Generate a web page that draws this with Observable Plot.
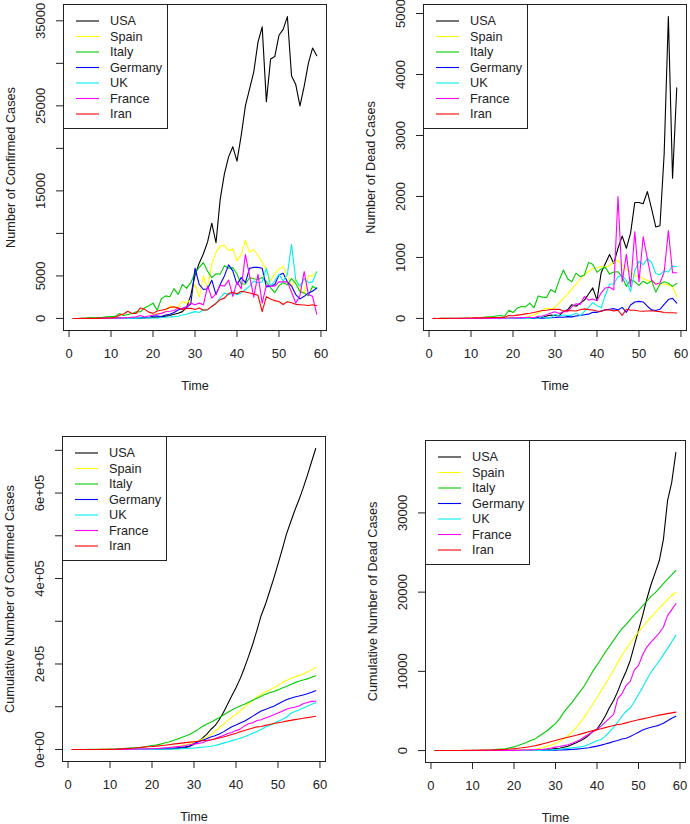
<!DOCTYPE html>
<html><head><meta charset="utf-8">
<script src="https://cdn.jsdelivr.net/npm/d3@7"></script>
<script src="https://cdn.jsdelivr.net/npm/@observablehq/plot@0.6"></script>
<style>
body{margin:0;background:#fff;}
#wrap{position:relative;width:690px;height:824px;background:#fff;font-family:"Liberation Sans",Arial,sans-serif;}
.panel{position:absolute;}
</style></head><body><div id="wrap"></div>
<script>
const days = d3.range(1, 60);
const countries = ["USA","Spain","Italy","Germany","UK","France","Iran"];
const colors = ["#000000","#ffff00","#00cd00","#0000ff","#00eeee","#ff00ff","#ff0000"];
const xTicks = [0,10,20,30,40,50,60];

// Daily confirmed cases
const usaCases = [0,0,0,0,0,0,1,0,3,0,2,8,7,20,25,30,50,60,100,110,150,200,270,350,500,600,800,1300,2700,5100,6500,7600,9000,11200,8900,14000,17000,19000,20200,18500,21500,25000,27000,29000,32500,34300,25500,30500,30800,33300,34000,35500,28500,27500,25000,27300,30000,31800,30900];
const spainCases = [0,0,0,0,0,0,2,5,10,15,20,30,35,45,40,60,140,100,170,400,600,580,800,1500,1200,1400,2000,1800,2200,4000,2500,5000,3500,6400,7800,8500,8600,8000,8200,6800,7500,9200,7800,8100,7400,6600,5800,4400,5300,5800,6100,5000,3800,4600,3400,3000,5000,5000,5500];
const italyCases = [0,0,17,42,93,74,93,131,202,233,240,566,342,466,587,769,778,1247,1492,1797,977,2313,2651,2547,3497,2823,4000,3526,4207,5322,5986,6557,5560,4789,5249,5210,6203,5909,5974,5217,4050,4053,4782,4668,4585,4805,4316,3599,3039,3836,4204,3951,4694,4092,3153,2972,2667,3786,3493];
const germanyCases = [0,0,0,0,0,0,0,2,1,20,10,30,20,40,30,50,70,140,90,270,280,220,400,500,700,1000,1200,1300,1700,5900,4000,3400,3500,4500,2800,4000,5000,6300,5600,4000,4800,4200,5900,6000,6000,5900,3700,3800,4000,5100,5300,4300,3800,2800,2300,2600,3000,3200,3600];
const ukCases = [0,0,0,0,0,0,0,4,0,3,3,13,4,11,34,30,48,43,67,48,52,83,134,160,210,250,400,500,650,800,700,1000,1000,1400,1800,2400,3000,2800,3000,2800,3000,3400,3800,4400,4200,4300,5900,3800,4400,5200,4400,5200,8700,4500,3800,4700,4200,4300,5500];
const franceCases = [0,0,0,0,0,0,0,4,20,19,43,30,61,73,138,190,336,177,286,372,497,595,785,838,924,1210,1100,1400,1800,1600,1800,1600,3800,2400,2900,3900,3800,4500,2600,4300,3500,7500,5000,2500,5200,1800,3900,3800,3800,4300,4300,4300,3100,1800,2700,5500,2800,2600,500];
const iranCases = [0,0,2,3,13,10,33,34,47,62,143,385,523,835,586,591,1234,1076,743,595,881,958,1075,1289,1365,1209,1053,1178,1192,1046,1237,966,1028,1411,1762,2206,2389,2926,3076,2901,3186,3110,2988,2875,2715,800,2560,2274,2089,1997,1634,1972,1837,1657,1617,1574,1512,1606,1499];

// Daily deaths
const usaDeaths = [0,0,0,0,0,0,0,0,0,0,1,0,5,3,2,1,2,4,3,4,4,7,7,11,10,18,23,40,56,49,46,113,141,225,200,250,300,400,500,300,750,900,1050,900,1150,1350,1150,1400,1900,1900,1880,2080,1800,1500,1520,2700,4950,2300,3780];
const spainDeaths = [0,0,0,0,0,0,0,0,0,0,0,0,1,0,1,1,3,5,7,10,10,15,20,40,60,90,130,170,150,180,250,330,400,480,560,650,720,770,820,830,850,840,870,920,950,880,800,760,700,690,650,620,600,580,560,560,550,520,360];
const italyDeaths = [0,0,1,1,1,4,3,2,5,4,8,5,18,27,28,41,49,36,133,97,168,196,189,250,175,368,349,345,475,427,627,793,651,601,743,683,712,919,889,756,812,837,727,760,766,681,525,636,604,542,610,570,619,431,566,602,578,525,575];
const germanyDeaths = [0,0,0,0,0,0,0,0,0,0,0,0,0,0,0,0,0,0,0,2,0,1,0,4,1,2,5,8,10,15,22,20,30,25,40,50,60,70,100,100,120,140,150,160,140,180,100,220,270,280,270,200,140,130,150,230,310,330,250];
const ukDeaths = [0,0,0,0,0,0,0,0,0,0,0,0,0,0,0,1,1,0,1,1,2,2,0,0,13,0,35,0,16,66,40,56,48,54,87,43,114,181,260,209,180,381,563,569,684,708,621,439,786,938,881,980,917,737,717,778,761,861,847];
const franceDeaths = [0,0,0,0,0,0,0,1,0,0,0,1,1,0,1,2,3,2,6,10,9,15,13,19,12,36,40,60,90,110,80,110,110,190,240,230,360,300,320,290,420,500,510,470,2000,600,1050,520,1420,600,1340,980,630,560,580,760,1440,750,750];
const iranDeaths = [2,0,2,1,3,4,4,3,7,8,9,11,12,11,15,15,16,21,49,43,54,63,75,85,97,113,129,135,147,149,149,123,129,127,122,143,157,144,139,123,117,141,138,124,134,50,151,136,133,121,117,122,125,117,111,98,94,92,89];

// Cumulative confirmed cases
const usaCumCases = [0,0,0,0,0,0,1,1,4,4,6,14,21,41,66,96,146,206,306,416,566,766,1036,1386,1886,2486,3286,4586,7286,12386,18886,26486,35486,46686,55586,69586,86586,105586,125786,144286,165786,190786,217786,246786,279286,313586,339086,369586,400386,433686,467686,503186,531686,559186,584186,611486,641486,673286,704186];
const spainCumCases = [0,0,0,0,0,0,2,7,17,32,52,82,117,162,202,262,402,502,672,1072,1672,2252,3052,4552,5752,7152,9152,10952,13152,17152,19652,24652,28152,34552,42352,50852,59452,67452,75652,82452,89952,99152,106952,115052,122452,129052,134852,139252,144552,150352,156452,161452,165252,169852,173252,176252,181252,186252,191752];
const italyCumCases = [0,0,17,59,152,226,319,450,652,885,1125,1691,2033,2499,3086,3855,4633,5880,7372,9169,10146,12459,15110,17657,21154,23977,27977,31503,35710,41032,47018,53575,59135,63924,69173,74383,80586,86495,92469,97686,101736,105789,110571,115239,119824,124629,128945,132544,135583,139419,143623,147574,152268,156360,159513,162485,165152,168938,172431];
const germanyCumCases = [0,0,0,0,0,0,0,2,3,23,33,63,83,123,153,203,273,413,503,773,1053,1273,1673,2173,2873,3873,5073,6373,8073,13973,17973,21373,24873,29373,32173,36173,41173,47473,53073,57073,61873,66073,71973,77973,83973,89873,93573,97373,101373,106473,111773,116073,119873,122673,124973,127573,130573,133773,137373];
const ukCumCases = [0,0,0,0,0,0,0,4,4,7,10,23,27,38,72,102,150,193,260,308,360,443,577,737,947,1197,1597,2097,2747,3547,4247,5247,6247,7647,9447,11847,14847,17647,20647,23447,26447,29847,33647,38047,42247,46547,52447,56247,60647,65847,70247,75447,84147,88647,92447,97147,101347,105647,109500];
const franceCumCases = [0,0,0,0,0,0,0,4,24,43,86,116,177,250,388,578,914,1091,1377,1749,2246,2841,3626,4464,5388,6598,7698,9098,10898,12498,14298,15898,19698,22098,24998,28898,32698,37198,39798,44098,47598,55098,60098,62598,67798,69598,73498,77298,81098,85398,89698,93998,97098,98898,101598,107098,109898,112498,112998];
const iranCumCases = [0,0,2,5,18,28,61,95,142,204,347,732,1255,2090,2676,3267,4501,5577,6320,6915,7796,8754,9829,11118,12483,13692,14745,15923,17115,18161,19398,20364,21392,22803,24565,26771,29160,32086,35162,38063,41249,44359,47347,50222,52937,53737,56297,58571,60660,62657,64291,66263,68100,69757,71374,72948,74460,76066,77565];

// Cumulative deaths
const usaCumDeaths = [0,0,0,0,0,0,0,0,0,0,1,1,6,9,11,12,14,18,21,25,29,36,43,54,64,82,105,145,201,250,296,409,550,775,975,1225,1525,1925,2425,2725,3475,4375,5425,6325,7475,8825,9975,11375,13275,15175,17055,19135,20935,22435,23955,26655,31555,33855,37635];
const spainCumDeaths = [0,0,0,0,0,0,0,0,0,0,0,0,1,1,2,3,6,11,18,28,38,53,73,113,173,263,393,563,713,893,1143,1473,1873,2353,2913,3563,4283,5053,5873,6703,7553,8393,9263,10183,11133,12013,12813,13573,14273,14963,15613,16233,16833,17413,17973,18533,19083,19603,19963];
const italyCumDeaths = [0,0,1,2,3,7,10,12,17,21,29,34,52,79,107,148,197,233,366,463,631,827,1016,1266,1441,1809,2158,2503,2978,3405,4032,4825,5476,6077,6820,7503,8215,9134,10023,10779,11591,12428,13155,13915,14681,15362,15887,16523,17127,17669,18279,18849,19468,19899,20465,21067,21645,22170,22745];
const germanyCumDeaths = [0,0,0,0,0,0,0,0,0,0,0,0,0,0,0,0,0,0,0,2,2,3,3,7,8,10,15,23,33,48,70,90,120,145,185,235,295,365,465,565,685,825,975,1135,1275,1455,1555,1775,2045,2325,2595,2795,2935,3065,3215,3445,3755,4085,4335];
const ukCumDeaths = [0,0,0,0,0,0,0,0,0,0,0,0,0,0,0,1,2,2,3,4,6,8,8,8,21,21,56,56,72,138,178,234,282,336,423,466,580,761,1021,1230,1410,1791,2354,2923,3607,4315,4936,5375,6161,7099,7980,8960,9877,10614,11331,12109,12870,13731,14578];
const franceCumDeaths = [0,0,0,0,0,0,0,1,1,1,1,2,3,3,4,6,9,11,17,27,36,51,64,83,95,131,171,231,321,431,511,621,731,921,1161,1391,1751,2051,2371,2661,3081,3581,4091,4561,6561,7161,8211,8731,10151,10751,12091,13071,13701,14261,14841,15601,17041,17791,18541];
const iranCumDeaths = [2,2,4,5,8,12,16,19,26,34,43,54,66,77,92,107,123,144,193,236,290,353,428,513,610,723,852,987,1134,1283,1432,1555,1684,1811,1933,2076,2233,2377,2516,2639,2756,2897,3035,3159,3293,3343,3494,3630,3763,3884,4001,4123,4248,4365,4476,4574,4668,4760,4849];

// Y tick values and labels per panel
const yTicks1 = [0,5000,10000,15000,20000,25000,30000,35000];
const yLabels1 = ["0","5000","","15000","","25000","","35000"];
const yTicks2 = [0,1000,2000,3000,4000,5000];
const yLabels2 = ["0","1000","2000","3000","4000","5000"];
const yTicks3 = [0,100000,200000,300000,400000,500000,600000,700000];
const yLabels3 = ["0e+00","","2e+05","","4e+05","","6e+05",""];
const yTicks4 = [0,10000,20000,30000];
const yLabels4 = ["0","10000","20000","30000"];

const panels = [
  {series:[usaCases,spainCases,italyCases,germanyCases,ukCases,franceCases,iranCases], ticks:yTicks1, labels:yLabels1, title:"Number of Confirmed Cases", left:0, top:0, m:[4,19,82,63]},
  {series:[usaDeaths,spainDeaths,italyDeaths,germanyDeaths,ukDeaths,franceDeaths,iranDeaths], ticks:yTicks2, labels:yLabels2, title:"Number of Dead Cases", left:345, top:0, m:[4,4,82,78]},
  {series:[usaCumCases,spainCumCases,italyCumCases,germanyCumCases,ukCumCases,franceCumCases,iranCumCases], ticks:yTicks3, labels:yLabels3, title:"Cumulative Number of Confirmed Cases", left:0, top:412, m:[24,20,63,62]},
  {series:[usaCumDeaths,spainCumDeaths,italyCumDeaths,germanyCumDeaths,ukCumDeaths,franceCumDeaths,iranCumDeaths], ticks:yTicks4, labels:yLabels4, title:"Cumulative Number of Dead Cases", left:345, top:412, m:[28,5,62,80]}
];

const FONT = "'Liberation Sans', Arial, Helvetica, sans-serif";
const INK = "#222";
const wrap = document.getElementById("wrap");

function rExtend(lo, hi) { const d = (hi - lo) * 0.04; return [lo - d, hi + d]; }

for (const p of panels) {
  const rows = [];
  p.series.forEach((arr, k) => arr.forEach((v, i) => rows.push({t: days[i], v, country: countries[k]})));
  const [mt, mr, mb, ml] = p.m;
  const yExt = d3.extent(rows, d => d.v);
  const labeled = p.ticks.map((t, i) => ({t, label: p.labels[i]})).filter(d => d.label !== "");
  const svg = Plot.plot({
    width: 345, height: 412,
    marginTop: mt, marginRight: mr, marginBottom: mb, marginLeft: ml,
    style: {fontFamily: FONT, fontSize: "13px", color: INK, background: "transparent"},
    x: {domain: rExtend(1, 59)},
    y: {domain: rExtend(yExt[0], yExt[1])},
    color: {domain: countries, range: colors},
    marks: [
      Plot.line(rows, {x: "t", y: "v", z: "country", stroke: "country", strokeWidth: 1.1}),
      Plot.frame({stroke: INK, strokeWidth: 1}),
      Plot.axisX({ticks: xTicks, tickSize: 7, tickPadding: 11, label: null, fontSize: 13, stroke: INK, fill: INK}),
      Plot.axisY({ticks: p.ticks, tickSize: 7, label: null, fill: "none", stroke: INK}),
      Plot.text(labeled, {y: "t", text: "label", frameAnchor: "left", dx: -23, rotate: -90, textAnchor: "middle", lineAnchor: "middle", fontSize: 13, fill: INK}),
      Plot.text(["Time"], {text: d => d, frameAnchor: "bottom", dy: 55, textAnchor: "middle", lineAnchor: "middle", fontSize: 12.7, fill: INK}),
      Plot.text([p.title], {text: d => d, frameAnchor: "left", dx: -53, rotate: -90, textAnchor: "middle", lineAnchor: "middle", fontSize: 12.7, fill: INK})
    ]
  });
  // legend (R-style box in the top-left corner of the plotting region)
  const g = d3.select(svg).append("g").attr("font-family", FONT).attr("font-size", 12.7).attr("text-anchor", "start");
  g.append("rect").attr("x", ml + 0.5).attr("y", mt + 0.5).attr("width", 104).attr("height", 124)
    .attr("fill", "#fff").attr("stroke", INK).attr("stroke-width", 1);
  countries.forEach((c, i) => {
    const y = mt + 17 + i * 15.5;
    g.append("line").attr("x1", ml + 13).attr("x2", ml + 36).attr("y1", y).attr("y2", y)
      .attr("stroke", colors[i]).attr("stroke-width", 1.1);
    g.append("text").attr("x", ml + 47).attr("y", y).attr("dy", "0.35em")
      .attr("text-anchor", "start").attr("fill", INK).text(c);
  });
  const holder = document.createElement("div");
  holder.className = "panel";
  holder.style.left = p.left + "px";
  holder.style.top = p.top + "px";
  holder.appendChild(svg);
  wrap.appendChild(holder);
}
</script>
</body></html>
